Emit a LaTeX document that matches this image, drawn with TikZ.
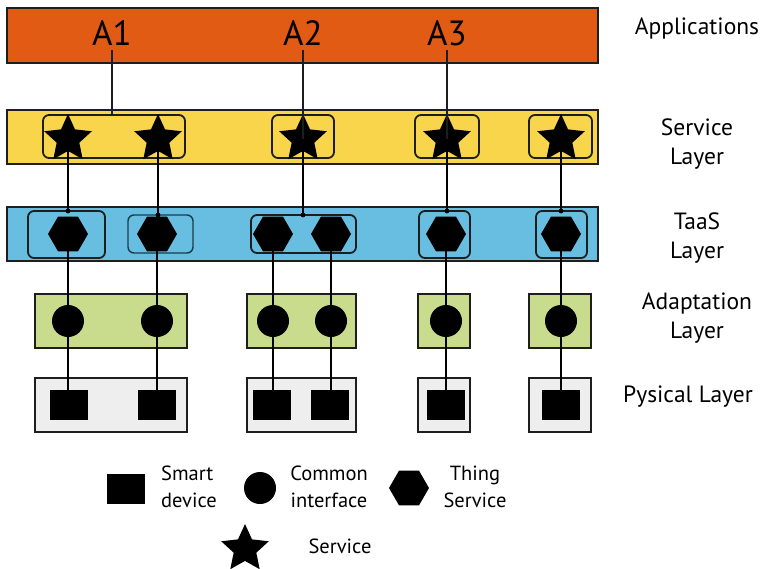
\documentclass[tikz,border=0pt]{standalone}
\usepackage{fontspec}
\setmainfont{PT Sans}
\usetikzlibrary{shapes.geometric}
\definecolor{appor}{RGB}{226,91,20}
\definecolor{srvyel}{RGB}{249,213,76}
\definecolor{taasbl}{RGB}{103,190,224}
\definecolor{adgrn}{RGB}{201,220,141}
\definecolor{phgr}{RGB}{238,238,238}
\definecolor{edge}{RGB}{30,30,30}
\definecolor{tealedge}{RGB}{25,60,75}
\begin{document}
\begin{tikzpicture}[x=1pt,y=-1pt,
  bar/.style={draw=edge,line width=2pt,inner sep=0pt,outer sep=0pt},
  grp/.style={draw=edge,line width=1.8pt,rounded corners=6pt,inner sep=0pt,outer sep=0pt},
  box/.style={draw=edge,line width=1.6pt,inner sep=0pt,outer sep=0pt},
  starn/.style={star,star points=5,star point ratio=2.1,fill=black,minimum size=50pt,inner sep=0pt},
  hexn/.style={regular polygon,regular polygon sides=6,fill=black,minimum size=40pt,inner sep=0pt},
  circn/.style={circle,fill=black,minimum size=32pt,inner sep=0pt},
  sqn/.style={rectangle,fill=black,minimum width=38pt,minimum height=30pt,inner sep=0pt},
  conn/.style={line width=2.4pt,black},
  thinconn/.style={line width=1.3pt,edge},
  lbl/.style={font=\fontsize{23.5}{29}\selectfont,align=center,inner sep=0pt},
  leg/.style={font=\fontsize{20.5}{27}\selectfont,inner sep=0pt},
  app/.style={font=\fontsize{35}{40}\selectfont,inner sep=4pt}
]
\useasboundingbox (0,0) rectangle (766,568);

% layer bars
\node[bar,fill=appor,minimum width=591pt,minimum height=55pt] (appbar) at (302.5,35.5) {};
\node[bar,fill=srvyel,minimum width=591pt,minimum height=54pt] (srvbar) at (302.5,137) {};
\node[bar,fill=taasbl,minimum width=591pt,minimum height=54pt] (taasbar) at (302.5,234) {};

% application labels
\node[app] (A1) at (112,33) {A1};
\node[app] (A2) at (303,33) {A2};
\node[app] (A3) at (447,33) {A3};

% service groups
\node[grp,minimum width=142pt,minimum height=43pt] (sg1) at (114,136.5) {};
\node[grp,minimum width=62pt,minimum height=43pt] (sg2) at (303,136.5) {};
\node[grp,minimum width=64pt,minimum height=43pt] (sg3) at (447,136.5) {};
\node[grp,minimum width=63pt,minimum height=43pt] (sg4) at (560.5,136.5) {};

% TaaS groups
\node[grp,minimum width=77pt,minimum height=47pt] (tg1) at (66.5,234.5) {};
\node[grp,draw=tealedge,line width=1.4pt,minimum width=65pt,minimum height=38pt] (tg2) at (160.5,234) {};
\node[grp,minimum width=105pt,minimum height=38pt] (tg3) at (303.5,234) {};
\node[grp,minimum width=51pt,minimum height=47pt] (tg4) at (444.5,234.5) {};
\node[grp,minimum width=51pt,minimum height=47pt] (tg5) at (561.5,234.5) {};

% adaptation groups
\node[box,fill=adgrn,minimum width=152pt,minimum height=54pt] (ag1) at (111,321) {};
\node[box,fill=adgrn,minimum width=109pt,minimum height=54pt] (ag2) at (301.5,321) {};
\node[box,fill=adgrn,minimum width=52pt,minimum height=54pt] (ag3) at (444,321) {};
\node[box,fill=adgrn,minimum width=62pt,minimum height=54pt] (ag4) at (560,321) {};

% physical groups
\node[box,fill=phgr,minimum width=152pt,minimum height=54pt] (pg1) at (111,405) {};
\node[box,fill=phgr,minimum width=109pt,minimum height=54pt] (pg2) at (301.5,405) {};
\node[box,fill=phgr,minimum width=52pt,minimum height=54pt] (pg3) at (444,405) {};
\node[box,fill=phgr,minimum width=62pt,minimum height=54pt] (pg4) at (560,405) {};

% stars
\node[starn] (s1) at (68,139) {};
\node[starn] (s2) at (158,139) {};
\node[starn] (s3) at (303,139) {};
\node[starn] (s4) at (447,139) {};
\node[starn] (s5) at (561,139) {};

% hexagons
\node[hexn] (h1) at (68,234) {};
\node[hexn] (h2) at (157,234) {};
\node[hexn] (h3) at (273,234) {};
\node[hexn] (h4) at (331,234) {};
\node[hexn] (h5) at (446,234) {};
\node[hexn] (h6) at (561,234) {};

% circles
\node[circn] (c1) at (68,321) {};
\node[circn] (c2) at (157,321) {};
\node[circn] (c3) at (273,321) {};
\node[circn] (c4) at (331,321) {};
\node[circn] (c5) at (446,321) {};
\node[circn] (c6) at (561,321) {};

% squares
\node[sqn] (q1) at (69,405) {};
\node[sqn] (q2) at (157,405) {};
\node[sqn] (q3) at (272,405) {};
\node[sqn] (q4) at (330,405) {};
\node[sqn] (q5) at (446,405) {};
\node[sqn] (q6) at (561,405) {};

% application connectors
\draw[thinconn] (A1.south) -- (A1.south |- sg1.north);
\draw[thinconn] (A2.south) -- (s3.center);
\draw[thinconn] (A3.south) -- (s4.center);

% service -> TaaS connectors
\foreach \s/\t in {s1/tg1,s2/tg2,s3/tg3,s4/tg4,s5/tg5}{
  \draw[conn] (\s.center) -- (\s.center |- \t.north);
  \fill (\s.center |- \t.north) circle (2.4pt);
}

% vertical stacks
\draw[conn] (h1.center) -- (c1.center) -- (c1.center |- q1.center);
\draw[conn] (h2.center) -- (c2.center) -- (c2.center |- q2.center);
\draw[conn] (h3.center) -- (c3.center) -- (c3.center |- q3.center);
\draw[conn] (h4.center) -- (c4.center) -- (c4.center |- q4.center);
\draw[conn] (h5.center) -- (c5.center) -- (c5.center |- q5.center);
\draw[conn] (h6.center) -- (c6.center) -- (c6.center |- q6.center);

% right-hand labels
\node[lbl] (lapp) at (697,28) {Applications};
\node[lbl] (lsrv) at (697,144) {Service\\Layer};
\node[lbl] (ltaas) at (697,238) {TaaS\\Layer};
\node[lbl] (ladp) at (697,318) {Adaptation\\Layer};
\node[lbl] (lphy) at (688,397) {Pysical Layer};

% legend
\node[sqn] (lq) at (126,489) {};
\node[leg,anchor=west,align=left] (lqt) at (161,487) {Smart\\device};
\node[circn] (lc) at (260,488) {};
\node[leg,align=center] (lct) at (329,487) {Common\\interface};
\node[hexn] (lh) at (409,488) {};
\node[leg,align=center] (lht) at (475,487) {Thing\\Service};
\node[starn] (ls) at (245,549) {};
\node[leg] (lst) at (340,546) {Service};
\end{tikzpicture}
\end{document}
